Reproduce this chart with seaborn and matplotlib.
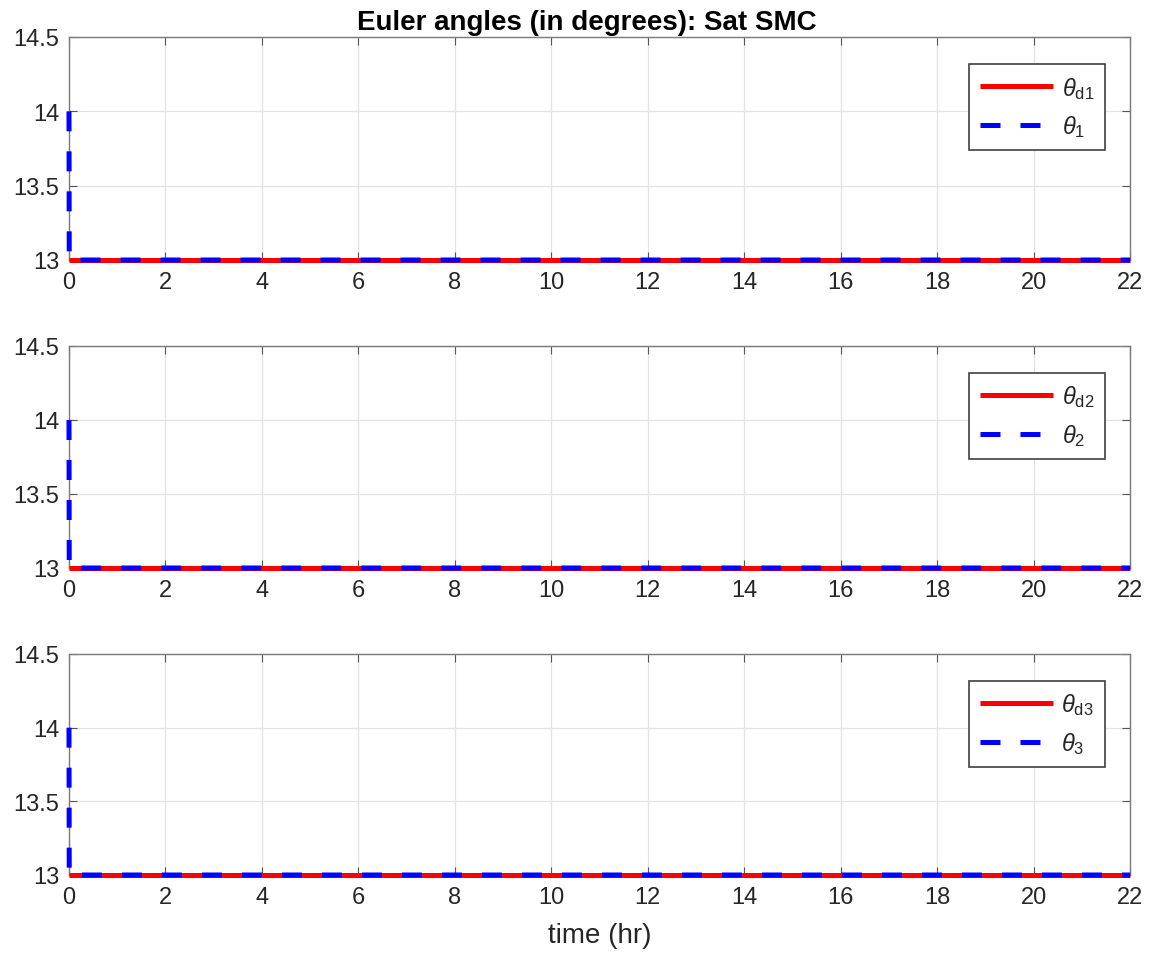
import numpy as np
import pandas as pd
import matplotlib
matplotlib.use("Agg")
import matplotlib.pyplot as plt
import seaborn as sns

# Data
time_hr = [0.0, 0.005, 22.0]
theta_d1 = [13.0, 13.0, 13.0]
theta_1 = [14.0, 13.0, 13.0]
theta_d2 = [13.0, 13.0, 13.0]
theta_2 = [14.0, 13.0, 13.0]
theta_d3 = [13.0, 13.0, 13.0]
theta_3 = [14.0, 13.0, 13.0]
x_ticks = [0, 2, 4, 6, 8, 10, 12, 14, 16, 18, 20, 22]
y_ticks = [13, 13.5, 14, 14.5]
y_tick_labels = ["13", "13.5", "14", "14.5"]
title = "Euler angles (in degrees): Sat SMC"
xlabel = "time (hr)"
labels = [(r"$\theta_{\mathrm{d1}}$", r"$\theta_{\mathrm{1}}$"),
          (r"$\theta_{\mathrm{d2}}$", r"$\theta_{\mathrm{2}}$"),
          (r"$\theta_{\mathrm{d3}}$", r"$\theta_{\mathrm{3}}$")]
desired = [theta_d1, theta_d2, theta_d3]
actual = [theta_1, theta_2, theta_3]

sns.set_theme(style="whitegrid")
plt.rcParams["font.family"] = ["Liberation Sans", "DejaVu Sans"]
plt.rcParams["mathtext.fontset"] = "custom"
plt.rcParams["mathtext.rm"] = "Liberation Sans"
plt.rcParams["mathtext.it"] = "Liberation Sans:italic"

fig = plt.figure(figsize=(11.53, 9.54), dpi=100)
W, H = 1153, 954
left, right = 69, 1130
tops = [38, 347, 655]
bottoms = [261, 569, 876]

tick_color = "#262626"
lw = 3.6
axes = []
for i in range(3):
    ax = fig.add_axes([left / W, 1 - bottoms[i] / H, (right - left) / W, (bottoms[i] - tops[i]) / H])
    axes.append(ax)
    df = pd.DataFrame({"t": time_hr, "d": desired[i], "a": actual[i]})
    sns.lineplot(data=df, x="t", y="d", ax=ax, color="#ff0000", linewidth=lw,
                 label=labels[i][0], estimator=None, sort=False)
    sns.lineplot(data=df, x="t", y="a", ax=ax, color="#0000ff", linewidth=lw,
                 label=labels[i][1], estimator=None, sort=False)
    for ln in ax.lines:
        ln.set_clip_on(False)
        ln.set_solid_capstyle("butt")
        ln.set_dash_capstyle("butt")
        ln.set_zorder(5)
    ax.lines[1].set_dashes((4, 4))
    ax.lines[1].set_zorder(6)
    ax.set_xlim(0, 22)
    ax.set_ylim(13, 14.5)
    ax.set_xticks(x_ticks)
    ax.set_xticklabels([str(v) for v in x_ticks])
    ax.set_yticks(y_ticks)
    ax.set_yticklabels(y_tick_labels)
    ax.set_xlabel("")
    ax.set_ylabel("")
    ax.set_facecolor("white")
    ax.grid(True, color="#e3e3e3", linewidth=0.9)
    for s in ax.spines.values():
        s.set_visible(True)
        s.set_color("#7a7a7a")
        s.set_linewidth(1.0)
    ax.tick_params(axis="both", direction="in", length=6, width=0.8, color="#555555",
                   labelsize=17, labelcolor=tick_color, top=True, right=True,
                   bottom=True, left=True)
    ax.tick_params(axis="x", pad=8)
    ax.tick_params(axis="y", pad=7)
    leg = ax.legend(loc="upper right", bbox_to_anchor=(0.976, 0.879), borderaxespad=0,
                    fontsize=17, handlelength=3.1, labelspacing=0.55, handletextpad=0.35,
                    borderpad=0.45, fancybox=False, framealpha=1.0, edgecolor="#404040")
    leg.get_frame().set_linewidth(1.2)

axes[0].set_title(title, fontsize=20, fontweight="bold", pad=6, color="black", x=0.488)
axes[2].set_xlabel(xlabel, fontsize=20, color=tick_color, labelpad=10)

fig.savefig("out.png", dpi=100, facecolor="white")
